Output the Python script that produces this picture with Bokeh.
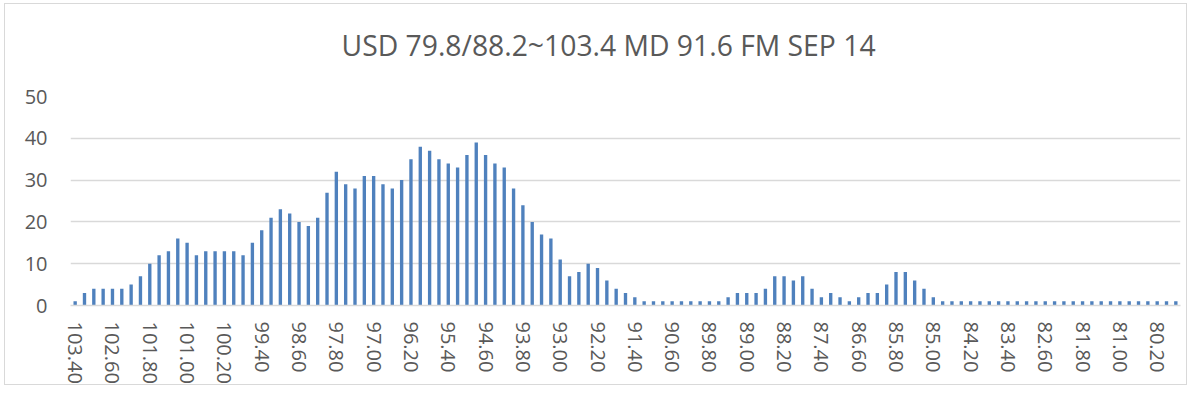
from bokeh.plotting import figure
from bokeh.models import Range1d, FixedTicker, ColumnDataSource, LinearAxis
from bokeh.embed import file_html
from bokeh.resources import INLINE

title_text = "USD 79.8/88.2~103.4 MD 91.6 FM SEP 14"

prices = [
    "103.40", "103.20", "103.00", "102.80", "102.60", "102.40", "102.20", "102.00",
    "101.80", "101.60", "101.40", "101.20", "101.00", "100.80", "100.60", "100.40",
    "100.20", "100.00", "99.80", "99.60", "99.40", "99.20", "99.00", "98.80",
    "98.60", "98.40", "98.20", "98.00", "97.80", "97.60", "97.40", "97.20",
    "97.00", "96.80", "96.60", "96.40", "96.20", "96.00", "95.80", "95.60",
    "95.40", "95.20", "95.00", "94.80", "94.60", "94.40", "94.20", "94.00",
    "93.80", "93.60", "93.40", "93.20", "93.00", "92.80", "92.60", "92.40",
    "92.20", "92.00", "91.80", "91.60", "91.40", "91.20", "91.00", "90.80",
    "90.60", "90.40", "90.20", "90.00", "89.80", "89.60", "89.40", "89.20",
    "89.00", "88.80", "88.60", "88.40", "88.20", "88.00", "87.80", "87.60",
    "87.40", "87.20", "87.00", "86.80", "86.60", "86.40", "86.20", "86.00",
    "85.80", "85.60", "85.40", "85.20", "85.00", "84.80", "84.60", "84.40",
    "84.20", "84.00", "83.80", "83.60", "83.40", "83.20", "83.00", "82.80",
    "82.60", "82.40", "82.20", "82.00", "81.80", "81.60", "81.40", "81.20",
    "81.00", "80.80", "80.60", "80.40", "80.20", "80.00", "79.80",
]

counts = [
    1, 3, 4, 4, 4, 4, 5, 7,
    10, 12, 13, 16, 15, 12, 13, 13,
    13, 13, 12, 15, 18, 21, 23, 22,
    20, 19, 21, 27, 32, 29, 28, 31,
    31, 29, 28, 30, 35, 38, 37, 35,
    34, 33, 36, 39, 36, 34, 33, 28,
    24, 20, 17, 16, 11, 7, 8, 10,
    9, 6, 4, 3, 2, 1, 1, 1,
    1, 1, 1, 1, 1, 1, 2, 3,
    3, 3, 4, 7, 7, 6, 7, 4,
    2, 3, 2, 1, 2, 3, 3, 5,
    8, 8, 6, 4, 2, 1, 1, 1,
    1, 1, 1, 1, 1, 1, 1, 1,
    1, 1, 1, 1, 1, 1, 1, 1,
    1, 1, 1, 1, 1, 1, 1,
]

tick_labels = [
    "103.40", "102.60", "101.80", "101.00", "100.20", "99.40", "98.60", "97.80",
    "97.00", "96.20", "95.40", "94.60", "93.80", "93.00", "92.20", "91.40",
    "90.60", "89.80", "89.00", "88.20", "87.40", "86.60", "85.80", "85.00",
    "84.20", "83.40", "82.60", "81.80", "81.00", "80.20",
]

y_ticks = [0, 10, 20, 30, 40, 50]

idx = list(range(len(prices)))
src = ColumnDataSource(dict(x=idx, price=prices, count=counts))

tick_pos = [prices.index(t) for t in tick_labels]

p = figure(width=1183, height=382, output_backend="svg", toolbar_location=None,
           x_range=Range1d(-0.5, len(prices) - 0.5), y_range=Range1d(0, 50),
           min_border_left=65, min_border_right=8, min_border_top=92,
           min_border_bottom=80, title=title_text)

p.vbar(x="x", top="count", width=0.36, source=src, fill_color="#4F81BD",
       line_color=None)

p.title.align = "left"
p.title.offset = 271
p.title.text_font = "Open Sans"
p.title.text_font_size = "28.3px"
p.title.text_font_style = "normal"
p.title.text_color = "#595959"
p.title.standoff = 10

p.outline_line_color = None
p.xgrid.grid_line_color = None
p.ygrid.grid_line_color = "#d9d9d9"
p.ygrid.grid_line_width = 1.5

xax = p.below[0]
yax = p.left[0]
yax.ticker = FixedTicker(ticks=y_ticks)
xax.ticker = FixedTicker(ticks=tick_pos)
xax.major_label_overrides = {i: t for i, t in zip(tick_pos, tick_labels)}
xax.major_label_orientation = "vertical"

for ax in (xax, yax):
    ax.major_tick_line_color = None
    ax.minor_tick_line_color = None
    ax.major_tick_out = 0
    ax.major_tick_in = 0
    ax.major_label_text_font = "Open Sans"
    ax.major_label_text_font_size = "20px"
    ax.major_label_text_color = "#595959"

yax.axis_line_color = None
yax.major_label_standoff = 23
xax.axis_line_color = "#d9d9d9"
xax.axis_line_width = 1.5
xax.major_label_standoff = 16

# white, label-less spacer axis that keeps the title clear of the frame
spacer = LinearAxis(ticker=FixedTicker(ticks=[0]), axis_line_color=None,
                    major_tick_line_color="white", minor_tick_line_color=None,
                    major_tick_in=0, major_tick_out=28, minor_tick_out=0,
                    major_label_standoff=0, major_label_overrides={0: ""},
                    major_label_text_font_size="1px")
p.add_layout(spacer, "above")

p.styles = {"border": "1px solid #d9d9d9", "margin-left": "4px", "margin-top": "3px"}

open("out.html", "w").write(file_html(p, INLINE))
